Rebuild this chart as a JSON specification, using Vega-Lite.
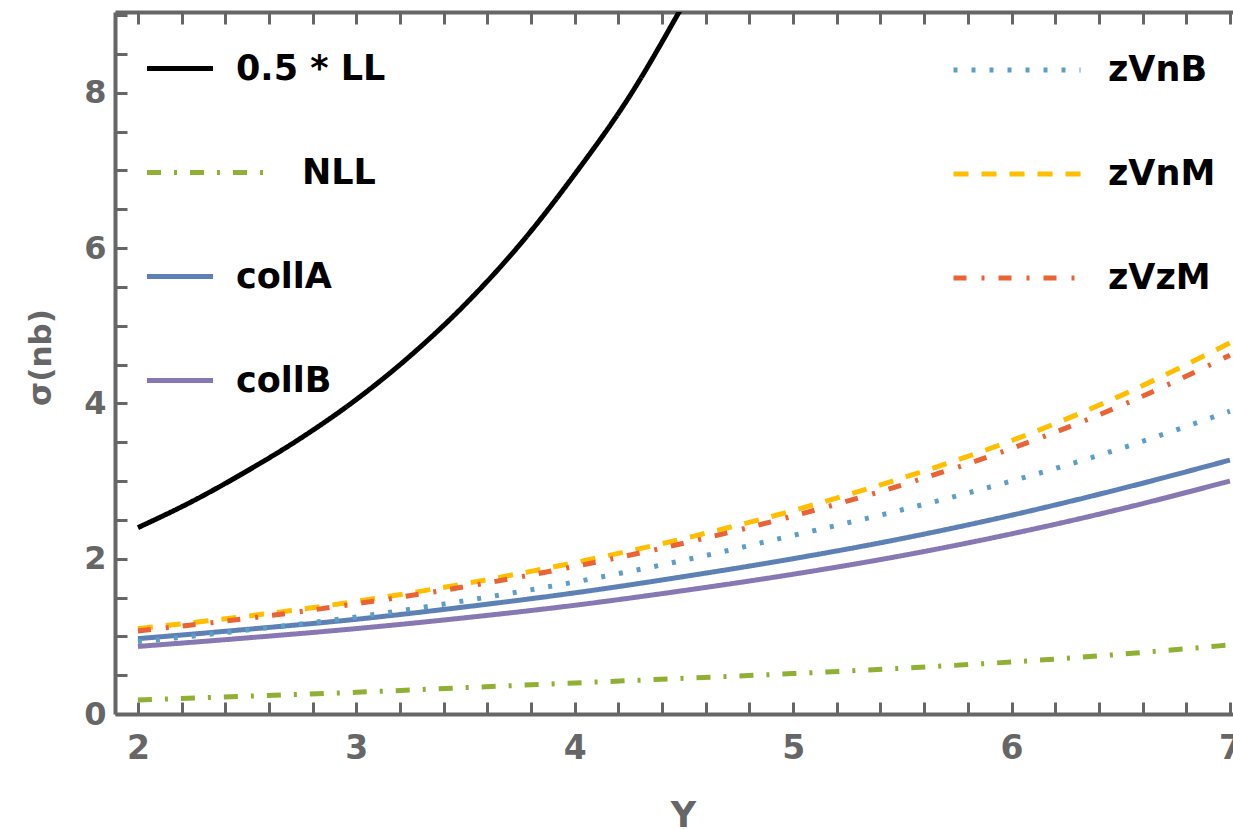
{
  "$schema": "https://vega.github.io/schema/vega-lite/v6.json",
  "width": 1118,
  "height": 702,
  "autosize": "none",
  "padding": {"left": 115, "top": 12, "right": 0, "bottom": 115},
  "background": "white",
  "data": {
    "values": [
      {"series": "0.5 * LL", "Y": 2.0, "sigma": 2.40},
      {"series": "0.5 * LL", "Y": 2.25, "sigma": 2.74},
      {"series": "0.5 * LL", "Y": 2.5, "sigma": 3.13},
      {"series": "0.5 * LL", "Y": 2.75, "sigma": 3.56},
      {"series": "0.5 * LL", "Y": 3.0, "sigma": 4.05},
      {"series": "0.5 * LL", "Y": 3.25, "sigma": 4.62},
      {"series": "0.5 * LL", "Y": 3.5, "sigma": 5.28},
      {"series": "0.5 * LL", "Y": 3.75, "sigma": 6.05},
      {"series": "0.5 * LL", "Y": 4.0, "sigma": 6.95},
      {"series": "0.5 * LL", "Y": 4.25, "sigma": 7.95},
      {"series": "0.5 * LL", "Y": 4.5, "sigma": 9.15},
      {"series": "0.5 * LL", "Y": 4.6, "sigma": 9.65},
      {"series": "NLL", "Y": 2.0, "sigma": 0.18},
      {"series": "NLL", "Y": 2.5, "sigma": 0.23},
      {"series": "NLL", "Y": 3.0, "sigma": 0.28},
      {"series": "NLL", "Y": 3.5, "sigma": 0.34},
      {"series": "NLL", "Y": 4.0, "sigma": 0.40},
      {"series": "NLL", "Y": 4.5, "sigma": 0.46},
      {"series": "NLL", "Y": 5.0, "sigma": 0.52},
      {"series": "NLL", "Y": 5.5, "sigma": 0.59},
      {"series": "NLL", "Y": 6.0, "sigma": 0.67},
      {"series": "NLL", "Y": 6.5, "sigma": 0.77},
      {"series": "NLL", "Y": 7.0, "sigma": 0.89},
      {"series": "collA", "Y": 2.0, "sigma": 0.97},
      {"series": "collA", "Y": 2.5, "sigma": 1.09},
      {"series": "collA", "Y": 3.0, "sigma": 1.22},
      {"series": "collA", "Y": 3.5, "sigma": 1.38},
      {"series": "collA", "Y": 4.0, "sigma": 1.56},
      {"series": "collA", "Y": 4.5, "sigma": 1.77},
      {"series": "collA", "Y": 5.0, "sigma": 2.0},
      {"series": "collA", "Y": 5.5, "sigma": 2.26},
      {"series": "collA", "Y": 6.0, "sigma": 2.56},
      {"series": "collA", "Y": 6.5, "sigma": 2.9},
      {"series": "collA", "Y": 7.0, "sigma": 3.27},
      {"series": "collB", "Y": 2.0, "sigma": 0.87},
      {"series": "collB", "Y": 2.5, "sigma": 0.98},
      {"series": "collB", "Y": 3.0, "sigma": 1.1},
      {"series": "collB", "Y": 3.5, "sigma": 1.24},
      {"series": "collB", "Y": 4.0, "sigma": 1.4},
      {"series": "collB", "Y": 4.5, "sigma": 1.59},
      {"series": "collB", "Y": 5.0, "sigma": 1.8},
      {"series": "collB", "Y": 5.5, "sigma": 2.04},
      {"series": "collB", "Y": 6.0, "sigma": 2.32},
      {"series": "collB", "Y": 6.5, "sigma": 2.64},
      {"series": "collB", "Y": 7.0, "sigma": 3.0},
      {"series": "zVnB", "Y": 2.0, "sigma": 0.93},
      {"series": "zVnB", "Y": 2.5, "sigma": 1.08},
      {"series": "zVnB", "Y": 3.0, "sigma": 1.25},
      {"series": "zVnB", "Y": 3.5, "sigma": 1.46},
      {"series": "zVnB", "Y": 4.0, "sigma": 1.7},
      {"series": "zVnB", "Y": 4.5, "sigma": 1.98},
      {"series": "zVnB", "Y": 5.0, "sigma": 2.3},
      {"series": "zVnB", "Y": 5.5, "sigma": 2.63},
      {"series": "zVnB", "Y": 6.0, "sigma": 3.0},
      {"series": "zVnB", "Y": 6.5, "sigma": 3.42},
      {"series": "zVnB", "Y": 7.0, "sigma": 3.9},
      {"series": "zVnM", "Y": 2.0, "sigma": 1.1},
      {"series": "zVnM", "Y": 2.5, "sigma": 1.26},
      {"series": "zVnM", "Y": 3.0, "sigma": 1.45},
      {"series": "zVnM", "Y": 3.5, "sigma": 1.68},
      {"series": "zVnM", "Y": 4.0, "sigma": 1.95},
      {"series": "zVnM", "Y": 4.5, "sigma": 2.26},
      {"series": "zVnM", "Y": 5.0, "sigma": 2.62},
      {"series": "zVnM", "Y": 5.5, "sigma": 3.04},
      {"series": "zVnM", "Y": 6.0, "sigma": 3.52},
      {"series": "zVnM", "Y": 6.5, "sigma": 4.1},
      {"series": "zVnM", "Y": 7.0, "sigma": 4.78},
      {"series": "zVzM", "Y": 2.0, "sigma": 1.07},
      {"series": "zVzM", "Y": 2.5, "sigma": 1.23},
      {"series": "zVzM", "Y": 3.0, "sigma": 1.42},
      {"series": "zVzM", "Y": 3.5, "sigma": 1.64},
      {"series": "zVzM", "Y": 4.0, "sigma": 1.9},
      {"series": "zVzM", "Y": 4.5, "sigma": 2.2},
      {"series": "zVzM", "Y": 5.0, "sigma": 2.55},
      {"series": "zVzM", "Y": 5.5, "sigma": 2.95},
      {"series": "zVzM", "Y": 6.0, "sigma": 3.42},
      {"series": "zVzM", "Y": 6.5, "sigma": 3.97},
      {"series": "zVzM", "Y": 7.0, "sigma": 4.62}
    ]
  },
  "layer": [
    {
      "transform": [{"filter": {"field": "series", "oneOf": ["0.5 * LL", "NLL", "collA", "collB"]}}],
      "mark": {"type": "line", "clip": true, "strokeWidth": 5, "interpolate": "monotone", "strokeCap": "butt"},
      "encoding": {
        "x": {
          "field": "Y", "type": "quantitative",
          "scale": {"domain": [1.895, 7.014], "nice": false, "zero": false},
          "axis": {
            "orient": "bottom",
            "title": "Y",
            "values": [2, 2.2, 2.4, 2.6, 2.8, 3, 3.2, 3.4, 3.6, 3.8, 4, 4.2, 4.4, 4.6, 4.8, 5, 5.2, 5.4, 5.6, 5.8, 6, 6.2, 6.4, 6.6, 6.8, 7],
            "tickCount": 200,
            "tickMinStep": 0.1,
            "labelExpr": "datum.value % 1 === 0 ? format(datum.value, 'd') : ''",
            "labelFontSize": 33,
            "labelPadding": 30,
            "labelBaseline": "top",
            "labelFlush": false,
            "labelOverlap": false,
            "titleFontSize": 35,
            "titleX": 568,
            "titleY": 84,
            "titleAlign": "center",
            "titleBaseline": "top",
            "encode": {"ticks": {"update": {"y2": {"signal": "datum.value % 1 === 0 ? -13 : -7"}}}}
          }
        },
        "y": {
          "field": "sigma", "type": "quantitative",
          "scale": {"domain": [0, 9.04], "nice": false},
          "axis": {
            "orient": "left",
            "title": "σ(nb)",
            "values": [0, 0.5, 1, 1.5, 2, 2.5, 3, 3.5, 4, 4.5, 5, 5.5, 6, 6.5, 7, 7.5, 8, 8.5, 9],
            "tickCount": 200,
            "tickMinStep": 0.1,
            "labelExpr": "datum.value % 2 === 0 ? format(datum.value, 'd') : ''",
            "labelFontSize": 32,
            "labelPadding": 21,
            "labelFlush": false,
            "labelOverlap": false,
            "titleFontSize": 31,
            "titleX": -74,
            "titleY": 345,
            "titleAngle": -90,
            "titleAlign": "center",
            "titleBaseline": "middle",
            "encode": {"ticks": {"update": {"x2": {"signal": "datum.value % 2 === 0 ? 13 : 7"}}}}
          }
        },
        "color": {
          "field": "series", "type": "nominal",
          "scale": {"domain": ["0.5 * LL", "NLL", "collA", "collB"], "range": ["#000000", "#8fb032", "#5e81b5", "#8778b3"]},
          "legend": {
            "title": null,
            "orient": "none",
            "legendX": 32,
            "legendY": 21,
            "padding": 0,
            "symbolType": "stroke",
            "symbolSize": 4356,
            "symbolStrokeWidth": 5,
            "labelFont": "DejaVu Sans",
            "labelFontWeight": "bold",
            "labelFontSize": 35,
            "labelColor": "#000000",
            "labelOffset": 18,
            "labelLimit": 400,
            "labelBaseline": "middle",
            "rowPadding": 50,
            "encode": {
              "symbols": {"update": {
                "size": {"signal": "datum.value === 'NLL' ? 15129 : 4356"},
                "x": {"signal": "datum.value === 'NLL' ? 61.5 : 33"}
              }},
              "labels": {"update": {"dx": {"signal": "datum.value === 'NLL' ? 66 : 0"}}}
            }
          }
        },
        "strokeDash": {
          "field": "series", "type": "nominal",
          "scale": {"domain": ["0.5 * LL", "NLL", "collA", "collB"], "range": [[1, 0], [14, 13, 3, 13], [1, 0], [1, 0]]}
        }
      }
    },
    {
      "transform": [{"filter": {"field": "series", "oneOf": ["zVnB", "zVnM", "zVzM"]}}],
      "mark": {"type": "line", "clip": true, "strokeWidth": 5, "interpolate": "monotone", "strokeCap": "butt"},
      "encoding": {
        "x": {
          "field": "Y", "type": "quantitative",
          "scale": {"domain": [1.895, 7.014], "nice": false, "zero": false},
          "axis": {
            "orient": "top",
            "title": null,
            "labels": false,
            "values": [2, 2.2, 2.4, 2.6, 2.8, 3, 3.2, 3.4, 3.6, 3.8, 4, 4.2, 4.4, 4.6, 4.8, 5, 5.2, 5.4, 5.6, 5.8, 6, 6.2, 6.4, 6.6, 6.8, 7],
            "tickCount": 200,
            "tickMinStep": 0.1,
            "encode": {"ticks": {"update": {"y2": {"signal": "datum.value % 1 === 0 ? 13 : 7"}}}}
          }
        },
        "y": {
          "field": "sigma", "type": "quantitative",
          "scale": {"domain": [0, 9.04], "nice": false}
        },
        "color": {
          "field": "series", "type": "nominal",
          "scale": {"domain": ["zVnB", "zVnM", "zVzM"], "range": ["#5d9ec7", "#ffbf00", "#eb6235"]},
          "legend": {
            "title": null,
            "orient": "none",
            "legendX": 836,
            "legendY": -8,
            "padding": 0,
            "symbolType": "stroke",
            "symbolSize": 16129,
            "symbolStrokeWidth": 5,
            "labelFont": "DejaVu Sans",
            "labelFontWeight": "bold",
            "labelFontSize": 35,
            "labelColor": "#000000",
            "labelOffset": 25,
            "labelLimit": 400,
            "labelBaseline": "middle",
            "rowPadding": 20
          }
        },
        "strokeDash": {
          "field": "series", "type": "nominal",
          "scale": {"domain": ["zVnB", "zVnM", "zVzM"], "range": [[4, 14], [15, 13], [13, 15, 3, 14]]}
        }
      }
    }
  ],
  "resolve": {
    "scale": {"color": "independent", "strokeDash": "independent"},
    "axis": {"x": "independent"}
  },
  "config": {
    "view": {"stroke": null},
    "axis": {
      "grid": false,
      "domainColor": "#666666",
      "domainWidth": 4,
      "tickColor": "#666666",
      "tickWidth": 3,
      "tickSize": -12,
      "labelColor": "#666666",
      "labelFont": "DejaVu Sans",
      "labelFontWeight": "bold",
      "titleColor": "#666666",
      "titleFont": "DejaVu Sans",
      "titleFontWeight": "bold"
    }
  }
}
